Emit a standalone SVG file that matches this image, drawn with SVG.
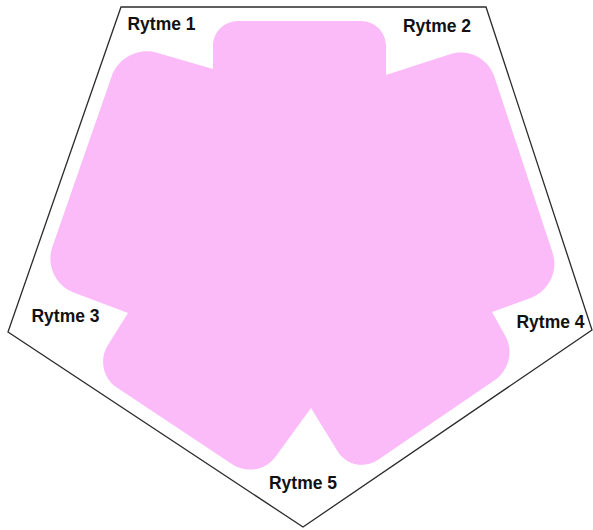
<svg xmlns="http://www.w3.org/2000/svg" width="593" height="530" viewBox="0 0 593 530">
  <style>
    .frame { fill: none; stroke: #2b2b2b; stroke-width: 1.3; stroke-linejoin: miter; }
    .petal { fill: #FBBAF8; stroke: none; }
    .lbl { font-family: "Liberation Sans", Arial, sans-serif; font-weight: bold; font-size: 17.5px; fill: #111111; text-anchor: middle; }
  </style>
  <rect width="593" height="530" fill="#ffffff"/>
  <g id="frame">
    <polygon class="frame" points="121,7 486,7 592,330 303,527 8,332"/>
  </g>
  <g id="cycle-shape">
    <path class="petal" d="M213,69 L213,46 C213,32.25 224.25,21 238,21 L361,21 C374.75,21 386,32.25 386,46 L386,75 L450,54.2 C468.3,48.3 488.25,58.3 494.3,76.6 L552.6,252.7 C558.65,270.96 548.8,291.3 530.7,297.9 L492,312 L505.6,336.55 C513.6,351 508.9,370.4 495.3,379.7 L378.1,459.8 C364.5,469.1 346.2,465.2 337.6,451.2 L311,408 L275.3,456.9 C265.6,470.2 246.4,473.6 232.6,464.5 L116.8,387.5 C103.05,378.4 98.95,359.5 107.7,345.5 L128,313 L73.6,292.5 C55.6,285.7 46,265.2 52.35,247 L111.8,76.1 C118.1,57.9 138.4,47.4 156.9,52.7 Z"/>
  </g>
  <g id="rytme-1"><text class="lbl" x="161.5" y="30">Rytme 1</text></g>
  <g id="rytme-2"><text class="lbl" x="437" y="32">Rytme 2</text></g>
  <g id="rytme-3"><text class="lbl" x="65.5" y="322">Rytme 3</text></g>
  <g id="rytme-4"><text class="lbl" x="550.5" y="328">Rytme 4</text></g>
  <g id="rytme-5"><text class="lbl" x="303" y="489">Rytme 5</text></g>
</svg>
